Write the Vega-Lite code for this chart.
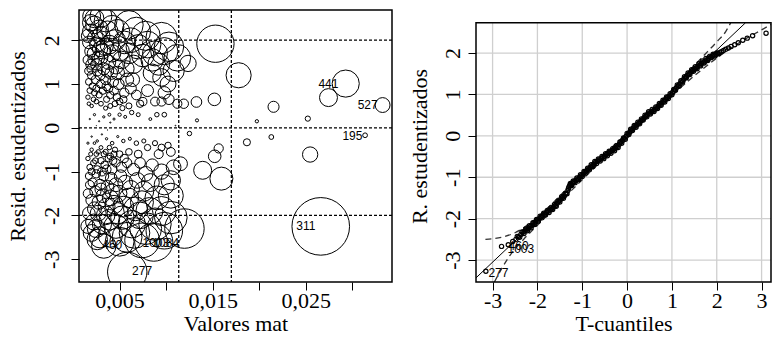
{
"$schema":"https://vega.github.io/schema/vega-lite/v6.json",
"padding":{"left":5,"top":8,"right":0,"bottom":0},
"bounds":"flush",
"spacing":84,
"config":{"font":"Liberation Serif","view":{"stroke":null},"axis":{"labelFont":"Liberation Serif","titleFont":"Liberation Serif","labelFontSize":22,"titleFontSize":22,"titleFontWeight":"normal","labelColor":"black","titleColor":"black","tickColor":"black","tickWidth":1,"tickSize":8,"domain":false,"grid":false,"labelFlush":false,"labelOverlap":false}},
"hconcat":[
{
"width":313,"height":272,
"view":{"stroke":"black","strokeWidth":1.5},
"encoding":{
  "x":{"field":"x","type":"quantitative","title":"Valores mat","scale":{"domain":[0.00064,0.03425],"nice":false,"zero":false},
       "axis":{"title":"Valores mat","values":[0.005,0.01,0.015,0.02,0.025,0.03],"labelExpr":"round(datum.value*1000)%10==5 ? replace(format(datum.value,'.3f'),'.',',') : ''","labelPadding":0,"titlePadding":2}},
  "y":{"field":"y","type":"quantitative","title":"Resid. estudentizados","scale":{"domain":[-3.52,2.69],"nice":false,"zero":false},
       "axis":{"title":"Resid. estudentizados","values":[-3,-2,-1,0,1,2],"labelExpr":"replace(datum.label,'\u2212','-')","labelAngle":270,"labelAlign":"center","labelBaseline":"bottom","labelPadding":8,"titlePadding":11}}
},
"layer":[
{"data":{"values":[{"x":0.01135},{"x":0.0170}]},"mark":{"type":"rule","strokeDash":[3,2],"strokeWidth":1.3,"color":"black"},
 "encoding":{"y":null}},
{"data":{"values":[{"y":-2},{"y":0},{"y":2}]},"mark":{"type":"rule","strokeDash":[3,2],"strokeWidth":1.3,"color":"black"},
 "encoding":{"x":null}},
{"data":{"values":[
{"x":0.0020,"y":2.55,"c":0.0966},{"x":0.0023,"y":2.35,"c":0.0943},{"x":0.0018,"y":2.2,"c":0.0647},{"x":0.0060,"y":2.35,"c":0.246},{"x":0.0068,"y":2.2,"c":0.2445},{"x":0.0042,"y":2.3,"c":0.165},{"x":0.0035,"y":2.45,"c":0.156},{"x":0.0095,"y":2.05,"c":0.296},{"x":0.0103,"y":1.85,"c":0.262},{"x":0.0112,"y":1.6,"c":0.213},{"x":0.0080,"y":1.9,"c":0.2146},{"x":0.0088,"y":1.7,"c":0.189},{"x":0.0075,"y":1.65,"c":0.152},{"x":0.0092,"y":1.45,"c":0.1436},{"x":0.0108,"y":1.3,"c":0.1356},{"x":0.0055,"y":1.95,"c":0.155},{"x":0.0050,"y":1.75,"c":0.1137},{"x":0.0045,"y":2.0,"c":0.1337},{"x":0.0030,"y":2.1,"c":0.0983},{"x":0.0026,"y":1.9,"c":0.0697},{"x":0.0022,"y":1.7,"c":0.0472},{"x":0.0017,"y":1.95,"c":0.048},{"x":0.0016,"y":1.55,"c":0.0286},{"x":0.0020,"y":1.35,"c":0.0271},{"x":0.0025,"y":1.45,"c":0.039},{"x":0.0030,"y":1.6,"c":0.0571},{"x":0.0034,"y":1.85,"c":0.0865},{"x":0.0038,"y":1.5,"c":0.0635},{"x":0.0042,"y":1.7,"c":0.0902},{"x":0.0046,"y":1.4,"c":0.067},{"x":0.0052,"y":1.55,"c":0.0927},{"x":0.0060,"y":1.7,"c":0.1288},{"x":0.0065,"y":1.45,"c":0.1014},{"x":0.0070,"y":1.85,"c":0.1779},{"x":0.0095,"y":1.15,"c":0.0933},{"x":0.0102,"y":1.0,"c":0.0758},{"x":0.0085,"y":1.25,"c":0.0985},{"x":0.0098,"y":0.8,"c":0.0466},{"x":0.0088,"y":0.6,"c":0.0235},{"x":0.0095,"y":0.6,"c":0.0254},{"x":0.0103,"y":0.65,"c":0.0323},{"x":0.0112,"y":0.55,"c":0.0252},{"x":0.0090,"y":0.3,"c":0.006},{"x":0.0098,"y":0.3,"c":0.0066},{"x":0.0062,"y":0.9,"c":0.0373},{"x":0.0058,"y":1.1,"c":0.0521},{"x":0.0055,"y":0.8,"c":0.0262},{"x":0.0068,"y":0.75,"c":0.0284},{"x":0.0075,"y":0.6,"c":0.0201},{"x":0.0080,"y":0.85,"c":0.0429},{"x":0.0072,"y":0.55,"c":0.0162},{"x":0.0050,"y":0.6,"c":0.0134},{"x":0.0045,"y":0.55,"c":0.0101},{"x":0.0040,"y":0.5,"c":0.0074},{"x":0.0035,"y":0.45,"c":0.0053},{"x":0.0030,"y":0.55,"c":0.0067},{"x":0.0025,"y":0.6,"c":0.0067},{"x":0.0020,"y":0.5,"c":0.0037},{"x":0.0016,"y":0.7,"c":0.0058},{"x":0.0028,"y":0.75,"c":0.0117},{"x":0.0032,"y":0.85,"c":0.0172},{"x":0.0038,"y":0.9,"c":0.0229},{"x":0.0044,"y":0.85,"c":0.0236},{"x":0.0049,"y":1.0,"c":0.0364},{"x":0.0021,"y":0.95,"c":0.0141},{"x":0.0017,"y":1.05,"c":0.0139},{"x":0.0024,"y":1.1,"c":0.0216},{"x":0.0029,"y":1.2,"c":0.031},{"x":0.0035,"y":1.1,"c":0.0315},{"x":0.0041,"y":1.25,"c":0.0476},{"x":0.0033,"y":1.35,"c":0.0447},{"x":0.0027,"y":1.6,"c":0.0514},{"x":0.0019,"y":1.75,"c":0.0432},{"x":0.0039,"y":1.9,"c":0.1046},{"x":0.0024,"y":2.05,"c":0.0749},{"x":0.0019,"y":2.4,"c":0.0813},{"x":0.0030,"y":2.55,"c":0.1449},{"x":0.0048,"y":2.2,"c":0.1726},{"x":0.0057,"y":1.35,"c":0.0771},{"x":0.0064,"y":1.1,"c":0.0575},{"x":0.0020,"y":1.2,"c":0.0214},{"x":0.0036,"y":0.65,"c":0.0113},{"x":0.0047,"y":0.7,"c":0.0171},{"x":0.0053,"y":0.45,"c":0.008},{"x":0.0060,"y":0.5,"c":0.0111},{"x":0.0018,"y":0.85,"c":0.0097},{"x":0.0023,"y":0.8,"c":0.0109},{"x":0.0026,"y":1.3,"c":0.0326},{"x":0.0037,"y":1.3,"c":0.0465},{"x":0.0043,"y":1.05,"c":0.0352},{"x":0.0017,"y":1.3,"c":0.0213},{"x":0.0022,"y":1.55,"c":0.0393},{"x":0.0032,"y":1.75,"c":0.0728},{"x":0.0016,"y":2.1,"c":0.0524},{"x":0.0028,"y":2.25,"c":0.1053},{"x":0.0062,"y":2.0,"c":0.1842},{"x":0.0078,"y":2.1,"c":0.2556},{"x":0.0085,"y":1.55,"c":0.1517},{"x":0.0098,"y":1.75,"c":0.223},{"x":0.0017,"y":0.55,"c":0.0038},{"x":0.0022,"y":0.65,"c":0.0069},{"x":0.0025,"y":0.9,"c":0.015},{"x":0.0030,"y":1.0,"c":0.0223},{"x":0.0036,"y":0.95,"c":0.0242},{"x":0.0019,"y":1.45,"c":0.0297},{"x":0.0029,"y":1.8,"c":0.0698},{"x":0.0023,"y":2.5,"c":0.1068},{"x":0.0037,"y":2.2,"c":0.1331},{"x":0.0040,"y":0.75,"c":0.0167},{"x":0.0048,"y":1.25,"c":0.0557},{"x":0.0054,"y":0.65,"c":0.017},
{"x":0.0020,"y":-0.5,"c":0.0037},{"x":0.0025,"y":-0.6,"c":0.0067},{"x":0.0030,"y":-0.45,"c":0.0045},{"x":0.0035,"y":-0.55,"c":0.0079},{"x":0.0040,"y":-0.65,"c":0.0126},{"x":0.0045,"y":-0.5,"c":0.0084},{"x":0.0050,"y":-0.6,"c":0.0134},{"x":0.0055,"y":-0.7,"c":0.02},{"x":0.0060,"y":-0.55,"c":0.0135},{"x":0.0070,"y":-0.6,"c":0.0187},{"x":0.0080,"y":-0.45,"c":0.012},{"x":0.0088,"y":-0.35,"c":0.008},{"x":0.0095,"y":-0.45,"c":0.0143},{"x":0.0102,"y":-0.4,"c":0.0121},{"x":0.0092,"y":-0.6,"c":0.0246},{"x":0.0105,"y":-0.55,"c":0.0236},{"x":0.0016,"y":-0.7,"c":0.0058},{"x":0.0018,"y":-0.9,"c":0.0108},{"x":0.0022,"y":-0.8,"c":0.0105},{"x":0.0026,"y":-0.95,"c":0.0174},{"x":0.0030,"y":-0.75,"c":0.0125},{"x":0.0034,"y":-0.85,"c":0.0183},{"x":0.0038,"y":-0.7,"c":0.0138},{"x":0.0042,"y":-0.95,"c":0.0282},{"x":0.0046,"y":-0.8,"c":0.0219},{"x":0.0052,"y":-0.9,"c":0.0313},{"x":0.0058,"y":-0.8,"c":0.0276},{"x":0.0065,"y":-0.95,"c":0.0436},{"x":0.0072,"y":-0.8,"c":0.0342},{"x":0.0078,"y":-1.05,"c":0.0639},{"x":0.0085,"y":-0.85,"c":0.0456},{"x":0.0095,"y":-1.0,"c":0.0706},{"x":0.0105,"y":-1.2,"c":0.1124},{"x":0.0017,"y":-1.1,"c":0.0153},{"x":0.0021,"y":-1.25,"c":0.0244},{"x":0.0025,"y":-1.05,"c":0.0205},{"x":0.0029,"y":-1.3,"c":0.0364},{"x":0.0033,"y":-1.1,"c":0.0297},{"x":0.0037,"y":-1.35,"c":0.0501},{"x":0.0041,"y":-1.15,"c":0.0403},{"x":0.0046,"y":-1.3,"c":0.0578},{"x":0.0051,"y":-1.1,"c":0.0459},{"x":0.0056,"y":-1.25,"c":0.065},{"x":0.0062,"y":-1.4,"c":0.0903},{"x":0.0069,"y":-1.2,"c":0.0738},{"x":0.0076,"y":-1.45,"c":0.1187},{"x":0.0083,"y":-1.25,"c":0.0964},{"x":0.0090,"y":-1.6,"c":0.1712},{"x":0.0105,"y":-1.55,"c":0.1874},{"x":0.0016,"y":-1.5,"c":0.0267},{"x":0.0020,"y":-1.65,"c":0.0405},{"x":0.0024,"y":-1.45,"c":0.0375},{"x":0.0028,"y":-1.7,"c":0.0601},{"x":0.0032,"y":-1.55,"c":0.0571},{"x":0.0036,"y":-1.8,"c":0.0867},{"x":0.0040,"y":-1.6,"c":0.0761},{"x":0.0044,"y":-1.75,"c":0.1001},{"x":0.0049,"y":-1.5,"c":0.0819},{"x":0.0054,"y":-1.8,"c":0.13},{"x":0.0060,"y":-1.6,"c":0.1141},{"x":0.0067,"y":-1.85,"c":0.1704},{"x":0.0074,"y":-1.7,"c":0.1589},{"x":0.0082,"y":-1.9,"c":0.22},{"x":0.0095,"y":-1.9,"c":0.2548},{"x":0.0017,"y":-1.95,"c":0.048},{"x":0.0022,"y":-2.15,"c":0.0756},{"x":0.0027,"y":-1.95,"c":0.0763},{"x":0.0031,"y":-2.2,"c":0.1115},{"x":0.0039,"y":-2.1,"c":0.1278},{"x":0.0046,"y":-2.25,"c":0.173},{"x":0.0053,"y":-2.05,"c":0.1655},{"x":0.0063,"y":-2.2,"c":0.2266},{"x":0.0072,"y":-2.0,"c":0.214},{"x":0.0020,"y":-2.4,"c":0.0856},{"x":0.0029,"y":-2.5,"c":0.1347},{"x":0.0033,"y":-2.7,"c":0.1787},{"x":0.0026,"y":-2.55,"c":0.1256},{"x":0.0040,"y":-2.45,"c":0.1784},{"x":0.0058,"y":-2.5,"c":0.2693},{"x":0.0066,"y":-2.4,"c":0.2825},{"x":0.00867,"y":-2.61,"c":0.4388},{"x":0.00742,"y":-2.57,"c":0.364},{"x":0.00582,"y":-3.29,"c":0.468},{"x":0.01196,"y":-2.3,"c":0.47},{"x":0.0105,"y":-2.05,"c":0.3206},{"x":0.0098,"y":-2.35,"c":0.402},{"x":0.0088,"y":-2.2,"c":0.3165},{"x":0.0078,"y":-2.3,"c":0.3066},{"x":0.0098,"y":-1.3,"c":0.123},{"x":0.0108,"y":-0.9,"c":0.065},
{"x":0.0019,"y":-0.6,"c":0.0051},{"x":0.0023,"y":-0.35,"c":0.0021},{"x":0.0027,"y":-0.55,"c":0.0061},{"x":0.0033,"y":-0.6,"c":0.0088},{"x":0.0039,"y":-0.45,"c":0.0059},{"x":0.0044,"y":-0.6,"c":0.0118},{"x":0.0020,"y":-1.0,"c":0.0149},{"x":0.0024,"y":-0.75,"c":0.01},{"x":0.0031,"y":-1.0,"c":0.023},{"x":0.0036,"y":-0.95,"c":0.0242},{"x":0.0043,"y":-0.75,"c":0.018},{"x":0.0018,"y":-1.3,"c":0.0226},{"x":0.0023,"y":-1.85,"c":0.0585},{"x":0.0030,"y":-1.4,"c":0.0437},{"x":0.0035,"y":-2.0,"c":0.104},{"x":0.0042,"y":-1.45,"c":0.0656},{"x":0.0016,"y":-2.25,"c":0.0602},{"x":0.0025,"y":-2.3,"c":0.0983},{"x":0.0048,"y":-1.95,"c":0.1356},{"x":0.0050,"y":-2.6,"c":0.2511},
{"x":0.0018,"y":0.2,"c":0.00053},{"x":0.0023,"y":0.3,"c":0.00154},{"x":0.0028,"y":0.15,"c":0.00047},{"x":0.0033,"y":0.25,"c":0.00153},{"x":0.0039,"y":0.3,"c":0.00261},{"x":0.0044,"y":0.2,"c":0.00131},{"x":0.0050,"y":0.3,"c":0.00334},{"x":0.0056,"y":0.25,"c":0.0026},{"x":0.0063,"y":0.35,"c":0.00573},{"x":0.0070,"y":0.3,"c":0.00468},{"x":0.0020,"y":-0.2,"c":0.00059},{"x":0.0026,"y":-0.3,"c":0.00174},{"x":0.0031,"y":-0.15,"c":0.00052},{"x":0.0036,"y":-0.25,"c":0.00167},{"x":0.0042,"y":-0.35,"c":0.00382},{"x":0.0048,"y":-0.2,"c":0.00143},{"x":0.0054,"y":-0.3,"c":0.00361},{"x":0.0061,"y":-0.25,"c":0.00283},{"x":0.0068,"y":-0.35,"c":0.00619},{"x":0.0076,"y":-0.3,"c":0.00508},{"x":0.0083,"y":0.2,"c":0.00247},{"x":0.0110,"y":0.05,"c":0.0002},{"x":0.0025,"y":0.05,"c":0.00005},{"x":0.0037,"y":-0.05,"c":0.00007},{"x":0.0040,"y":0.12,"c":0.00043},{"x":0.0016,"y":-0.35,"c":0.00146},
{"x":0.02928,"y":1.01,"c":0.2219},{"x":0.02743,"y":0.69,"c":0.097},{"x":0.03324,"y":0.52,"c":0.0668},{"x":0.02153,"y":0.48,"c":0.0369},{"x":0.02521,"y":0.21,"c":0.00826},{"x":0.01974,"y":0.15,"c":0.0033},{"x":0.03136,"y":-0.17,"c":0.00673},{"x":0.02129,"y":-0.21,"c":0.00698},{"x":0.01867,"y":-0.33,"c":0.0151},{"x":0.02546,"y":-0.61,"c":0.0704},{"x":0.0266,"y":-2.25,"c":1.0},{"x":0.01529,"y":1.92,"c":0.4188},{"x":0.01778,"y":1.2,"c":0.1902},{"x":0.01564,"y":-0.47,"c":0.0257},{"x":0.01521,"y":-0.65,"c":0.0477},{"x":0.01392,"y":-0.97,"c":0.0973},{"x":0.01593,"y":-1.16,"c":0.1593},{"x":0.01154,"y":-0.82,"c":0.0577},{"x":0.0125,"y":-0.13,"c":0.006},{"x":0.01325,"y":0.59,"c":0.0343},{"x":0.01518,"y":0.65,"c":0.0477},{"x":0.01331,"y":0.17,"c":0.003},{"x":0.01189,"y":0.55,"c":0.0267},{"x":0.01235,"y":1.47,"c":0.08}
]},
 "mark":{"type":"point","shape":"circle","filled":false,"clip":true,"color":"black","strokeWidth":1,"opacity":1},
 "encoding":{
  "size":{"field":"c","type":"quantitative","scale":{"domain":[0,1],"range":[0,3318]},"legend":null}}},
{"data":{"values":[{"x":0.02742,"y":1.01,"label":"441"},{"x":0.03164,"y":0.52,"label":"527"},{"x":0.0300,"y":-0.18,"label":"195"},{"x":0.0250,"y":-2.25,"label":"311"},{"x":0.00421,"y":-2.68,"label":"460"},{"x":0.00889,"y":-2.63,"label":"1003"},{"x":0.00996,"y":-2.63,"label":"1084"},{"x":0.00742,"y":-3.27,"label":"277"}]},
 "mark":{"type":"text","font":"Liberation Sans","fontSize":12,"fill":"black"},
 "encoding":{"text":{"field":"label"}}}
]
},
{
"width":295,"height":272,
"encoding":{
  "x":{"field":"x","type":"quantitative","title":"T-cuantiles","scale":{"domain":[-3.37,3.21],"nice":false,"zero":false},
   "axis":{"title":"T-cuantiles","values":[-3,-2,-1,0,1,2,3],"labelExpr":"replace(datum.label,'\u2212','-')","labelPadding":0,"titlePadding":2}},
  "y":{"field":"y","type":"quantitative","title":"R. estudentizados","scale":{"domain":[-3.53,3.04],"nice":false,"zero":false},
   "axis":{"title":"R. estudentizados","values":[-3,-2,-1,0,1,2],"labelExpr":"replace(datum.label,'\u2212','-')","labelAngle":270,"labelAlign":"center","labelBaseline":"bottom","labelPadding":4,"titlePadding":10}}
},
"layer":[
{"data":{"values":[{"x":-3,"y":-3.53,"y2":2.73},{"x":-2,"y":-3.53,"y2":2.73},{"x":-1,"y":-3.53,"y2":2.73},{"x":0,"y":-3.53,"y2":2.73},{"x":1,"y":-3.53,"y2":2.73},{"x":2,"y":-3.53,"y2":2.73},{"x":3,"y":-3.53,"y2":2.73}]},"mark":{"type":"rule","color":"#cfcfcf","strokeWidth":1.3},
 "encoding":{"y2":{"field":"y2"}}},
{"data":{"values":[{"y":-3,"x":-3.37,"x2":3.21},{"y":-2,"x":-3.37,"x2":3.21},{"y":-1,"x":-3.37,"x2":3.21},{"y":0,"x":-3.37,"x2":3.21},{"y":1,"x":-3.37,"x2":3.21},{"y":2,"x":-3.37,"x2":3.21}]},"mark":{"type":"rule","color":"#cfcfcf","strokeWidth":1.3},
 "encoding":{"x2":{"field":"x2"}}},
{"data":{"values":[{"x":-3.37,"y":-3.43},{"x":2.64,"y":2.73}]},"mark":{"type":"line","color":"black","strokeWidth":1},"encoding":{}},
{"data":{"values":[{"x":-3.16,"y":-2.5},{"x":-2.8,"y":-2.45},{"x":-2.5,"y":-2.34},{"x":-2.2,"y":-2.14},{"x":-2.0,"y":-1.97},{"x":-1.8,"y":-1.77},{"x":-1.5,"y":-1.45},{"x":-1.0,"y":-0.92},{"x":-0.5,"y":-0.43},{"x":0,"y":0.06},{"x":0.5,"y":0.57},{"x":1.0,"y":1.11},{"x":1.5,"y":1.70},{"x":1.8,"y":2.04},{"x":2.0,"y":2.27},{"x":2.2,"y":2.52},{"x":2.31,"y":2.73}]},
 "mark":{"type":"line","color":"#333333","strokeWidth":1.3,"strokeDash":[6,4],"interpolate":"monotone"},"encoding":{}},
{"data":{"values":[{"x":-2.96,"y":-3.53},{"x":-2.64,"y":-2.93},{"x":-2.3,"y":-2.49},{"x":-2.0,"y":-2.16},{"x":-1.5,"y":-1.6},{"x":-1.0,"y":-1.06},{"x":-0.5,"y":-0.53},{"x":0,"y":-0.01},{"x":0.5,"y":0.49},{"x":1.0,"y":0.98},{"x":1.5,"y":1.45},{"x":2.0,"y":1.88},{"x":2.5,"y":2.25},{"x":3.0,"y":2.56},{"x":3.21,"y":2.69}]},
 "mark":{"type":"line","color":"#333333","strokeWidth":1.3,"strokeDash":[6,4],"interpolate":"monotone"},"encoding":{}},
{"data":{"values":[
{"x":-3.15,"y":-3.27},{"x":-2.8,"y":-2.67},{"x":-2.65,"y":-2.63},{"x":-2.55,"y":-2.55},{"x":-2.48,"y":-2.5},{"x":-2.42,"y":-2.44},{"x":-2.37,"y":-2.38},{"x":-2.32,"y":-2.33},{"x":-2.28,"y":-2.3},{"x":-2.24,"y":-2.27},{"x":-2.2,"y":-2.23},{"x":-2.16,"y":-2.19},{"x":-2.12,"y":-2.16},{"x":-2.08,"y":-2.12},{"x":-2.04,"y":-2.08},{"x":-2.0,"y":-2.04},{"x":-1.96,"y":-2.0},{"x":-1.92,"y":-1.96},{"x":-1.88,"y":-1.92},{"x":-1.84,"y":-1.89},{"x":-1.8,"y":-1.85},{"x":-1.76,"y":-1.82},{"x":-1.72,"y":-1.79},{"x":-1.68,"y":-1.76},{"x":-1.64,"y":-1.72},{"x":-1.6,"y":-1.68},{"x":-1.56,"y":-1.63},{"x":-1.52,"y":-1.58},{"x":-1.48,"y":-1.53},{"x":-1.44,"y":-1.49},{"x":-1.4,"y":-1.45},{"x":-1.36,"y":-1.4},{"x":-1.32,"y":-1.32},{"x":-1.3,"y":-1.24},{"x":-1.28,"y":-1.2},{"x":-1.25,"y":-1.17},{"x":-1.22,"y":-1.14},{"x":-1.18,"y":-1.11},{"x":-1.14,"y":-1.07},{"x":-1.1,"y":-1.04},{"x":-1.06,"y":-1.0},{"x":-1.02,"y":-0.96},{"x":-0.98,"y":-0.92},{"x":-0.94,"y":-0.88},{"x":-0.9,"y":-0.84},{"x":-0.86,"y":-0.8},{"x":-0.82,"y":-0.76},{"x":-0.78,"y":-0.72},{"x":-0.74,"y":-0.68},{"x":-0.7,"y":-0.64},{"x":-0.66,"y":-0.61},{"x":-0.62,"y":-0.58},{"x":-0.58,"y":-0.55},{"x":-0.54,"y":-0.52},{"x":-0.5,"y":-0.49},{"x":-0.46,"y":-0.45},{"x":-0.42,"y":-0.42},{"x":-0.38,"y":-0.39},{"x":-0.34,"y":-0.36},{"x":-0.3,"y":-0.33},{"x":-0.26,"y":-0.3},{"x":-0.22,"y":-0.26},{"x":-0.18,"y":-0.21},{"x":-0.14,"y":-0.16},{"x":-0.1,"y":-0.11},{"x":-0.06,"y":-0.06},{"x":-0.02,"y":-0.01},{"x":0.02,"y":0.04},{"x":0.06,"y":0.09},{"x":0.1,"y":0.14},{"x":0.14,"y":0.19},{"x":0.18,"y":0.23},{"x":0.22,"y":0.27},{"x":0.26,"y":0.31},{"x":0.3,"y":0.35},{"x":0.34,"y":0.39},{"x":0.38,"y":0.44},{"x":0.42,"y":0.48},{"x":0.46,"y":0.52},{"x":0.5,"y":0.55},{"x":0.54,"y":0.58},{"x":0.58,"y":0.61},{"x":0.62,"y":0.64},{"x":0.66,"y":0.68},{"x":0.7,"y":0.72},{"x":0.74,"y":0.76},{"x":0.78,"y":0.8},{"x":0.82,"y":0.84},{"x":0.86,"y":0.88},{"x":0.9,"y":0.92},{"x":0.94,"y":0.96},{"x":0.98,"y":1.0},{"x":1.02,"y":1.05},{"x":1.06,"y":1.11},{"x":1.1,"y":1.16},{"x":1.14,"y":1.21},{"x":1.18,"y":1.26},{"x":1.22,"y":1.31},{"x":1.26,"y":1.36},{"x":1.3,"y":1.41},{"x":1.34,"y":1.46},{"x":1.38,"y":1.5},{"x":1.42,"y":1.54},{"x":1.46,"y":1.58},{"x":1.5,"y":1.61},{"x":1.54,"y":1.64},{"x":1.58,"y":1.68},{"x":1.62,"y":1.71},{"x":1.66,"y":1.75},{"x":1.7,"y":1.78},{"x":1.74,"y":1.81},{"x":1.78,"y":1.84},{"x":1.82,"y":1.87},{"x":1.86,"y":1.9},{"x":1.9,"y":1.93},{"x":1.94,"y":1.95},{"x":1.98,"y":1.97},{"x":2.02,"y":1.99},{"x":2.06,"y":2.01},{"x":2.1,"y":2.03},{"x":2.15,"y":2.06},{"x":2.2,"y":2.09},{"x":2.26,"y":2.12},{"x":2.32,"y":2.16},{"x":2.4,"y":2.2},{"x":2.48,"y":2.25},{"x":2.58,"y":2.31},{"x":2.68,"y":2.36},{"x":2.8,"y":2.42},{"x":3.1,"y":2.48},
{"x":-2.45,"y":-2.43},{"x":-2.395,"y":-2.45},{"x":-2.345,"y":-2.32},{"x":-2.3,"y":-2.36},{"x":-2.26,"y":-2.25},{"x":-2.22,"y":-2.29},{"x":-2.18,"y":-2.17},{"x":-2.14,"y":-2.22},{"x":-2.1,"y":-2.1},{"x":-2.06,"y":-2.14},{"x":-2.02,"y":-2.02},{"x":-1.98,"y":-2.06},{"x":-1.94,"y":-1.94},{"x":-1.9,"y":-1.98},{"x":-1.86,"y":-1.87},{"x":-1.82,"y":-1.91},{"x":-1.78,"y":-1.8},{"x":-1.74,"y":-1.85},{"x":-1.7,"y":-1.74},{"x":-1.66,"y":-1.78},{"x":-1.62,"y":-1.66},{"x":-1.58,"y":-1.7},{"x":-1.54,"y":-1.57},{"x":-1.5,"y":-1.6},{"x":-1.46,"y":-1.47},{"x":-1.42,"y":-1.51},{"x":-1.38,"y":-1.39},{"x":-1.34,"y":-1.4},{"x":-1.31,"y":-1.28},{"x":-1.265,"y":-1.15},{"x":-1.235,"y":-1.2},{"x":-1.2,"y":-1.09},{"x":-1.16,"y":-1.13},{"x":-1.12,"y":-1.02},{"x":-1.08,"y":-1.06},{"x":-1.04,"y":-0.94},{"x":-1.0,"y":-0.98},{"x":-0.96,"y":-0.86},{"x":-0.92,"y":-0.9},{"x":-0.88,"y":-0.78},{"x":-0.84,"y":-0.82},{"x":-0.8,"y":-0.7},{"x":-0.76,"y":-0.74},{"x":-0.72,"y":-0.62},{"x":-0.68,"y":-0.67},{"x":-0.64,"y":-0.56},{"x":-0.6,"y":-0.61},{"x":-0.56,"y":-0.5},{"x":-0.52,"y":-0.55},{"x":-0.48,"y":-0.43},{"x":-0.44,"y":-0.48},{"x":-0.4,"y":-0.37},{"x":-0.36,"y":-0.42},{"x":-0.32,"y":-0.31},{"x":-0.28,"y":-0.36},{"x":-0.24,"y":-0.24},{"x":-0.2,"y":-0.28},{"x":-0.16,"y":-0.15},{"x":-0.12,"y":-0.18},{"x":-0.08,"y":-0.05},{"x":-0.04,"y":-0.08},{"x":0.0,"y":0.06},{"x":0.04,"y":0.03},{"x":0.08,"y":0.16},{"x":0.12,"y":0.13},{"x":0.16,"y":0.25},{"x":0.2,"y":0.21},{"x":0.24,"y":0.33},{"x":0.28,"y":0.29},{"x":0.32,"y":0.41},{"x":0.36,"y":0.38},{"x":0.4,"y":0.5},{"x":0.44,"y":0.46},{"x":0.48,"y":0.58},{"x":0.52,"y":0.53},{"x":0.56,"y":0.64},{"x":0.6,"y":0.59},{"x":0.64,"y":0.7},{"x":0.68,"y":0.66},{"x":0.72,"y":0.78},{"x":0.76,"y":0.74},{"x":0.8,"y":0.86},{"x":0.84,"y":0.82},{"x":0.88,"y":0.94},{"x":0.92,"y":0.9},{"x":0.96,"y":1.02},{"x":1.0,"y":0.99},{"x":1.04,"y":1.12},{"x":1.08,"y":1.1},{"x":1.12,"y":1.23},{"x":1.16,"y":1.2},{"x":1.2,"y":1.33},{"x":1.24,"y":1.3},{"x":1.28,"y":1.43},{"x":1.32,"y":1.4},{"x":1.36,"y":1.52},{"x":1.4,"y":1.48},{"x":1.44,"y":1.6},{"x":1.48,"y":1.56},{"x":1.52,"y":1.67},{"x":1.56,"y":1.62},{"x":1.6,"y":1.74},{"x":1.64,"y":1.69},{"x":1.68,"y":1.81},{"x":1.72,"y":1.76},{"x":1.76,"y":1.87},{"x":1.8,"y":1.82},{"x":1.84,"y":1.92},{"x":1.88,"y":1.89},{"x":1.92,"y":1.97},{"x":1.96,"y":1.93},{"x":2.0,"y":2.0},{"x":2.04,"y":1.98}
]},
 "mark":{"type":"point","shape":"circle","filled":false,"color":"black","strokeWidth":1.2,"opacity":1,"size":18}},
{"data":{"values":[{"x":-2.87,"y":-3.31,"label":"277"},{"x":-2.42,"y":-2.66,"label":"460"},{"x":-2.37,"y":-2.73,"label":"1003"}]},
 "mark":{"type":"text","font":"Liberation Sans","fontSize":12,"fill":"black"},
 "encoding":{"text":{"field":"label"}}},
{"data":{"values":[{"x":-3.37,"x2":3.21,"y":-3.53,"y2":2.73}]},
 "mark":{"type":"rect","fillOpacity":0,"stroke":"black","strokeWidth":1.5},
 "encoding":{"x2":{"field":"x2"},"y2":{"field":"y2"}}}
]
}
]
}
